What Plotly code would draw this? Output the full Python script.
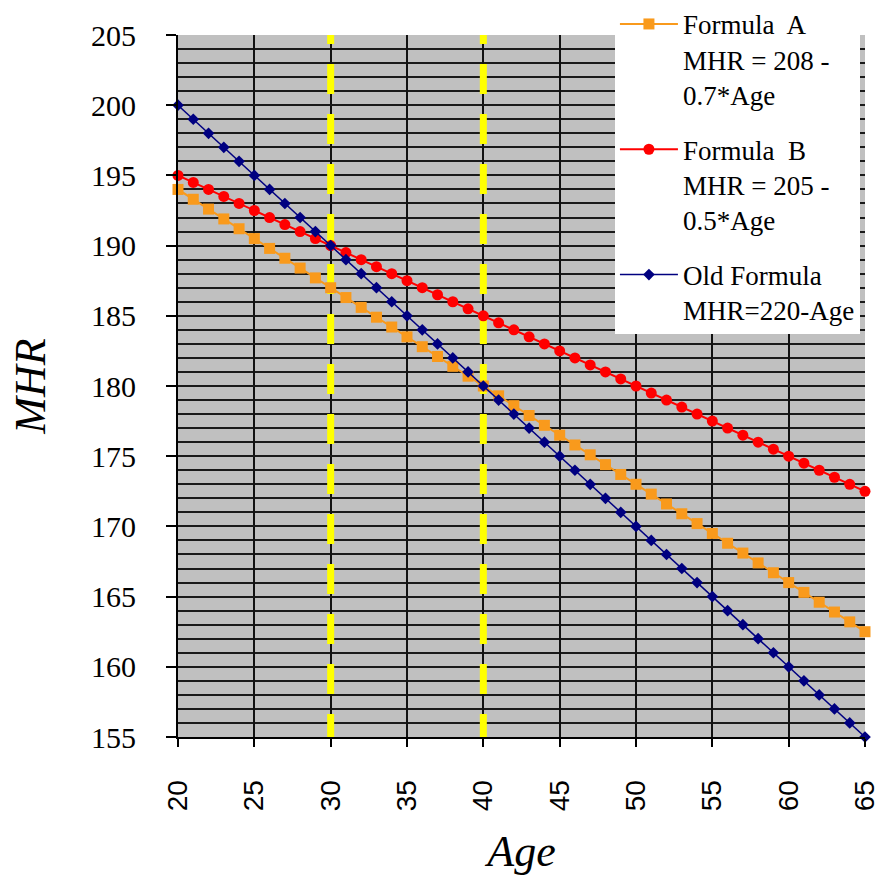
import plotly.graph_objects as go

ages = [20, 21, 22, 23, 24, 25, 26, 27, 28, 29, 30, 31, 32, 33, 34, 35, 36, 37, 38, 39,
        40, 41, 42, 43, 44, 45, 46, 47, 48, 49, 50, 51, 52, 53, 54, 55, 56, 57, 58, 59,
        60, 61, 62, 63, 64, 65]

formula_a = [194.0, 193.3, 192.6, 191.9, 191.2, 190.5, 189.8, 189.1, 188.4, 187.7,
             187.0, 186.3, 185.6, 184.9, 184.2, 183.5, 182.8, 182.1, 181.4, 180.7,
             180.0, 179.3, 178.6, 177.9, 177.2, 176.5, 175.8, 175.1, 174.4, 173.7,
             173.0, 172.3, 171.6, 170.9, 170.2, 169.5, 168.8, 168.1, 167.4, 166.7,
             166.0, 165.3, 164.6, 163.9, 163.2, 162.5]

formula_b = [195.0, 194.5, 194.0, 193.5, 193.0, 192.5, 192.0, 191.5, 191.0, 190.5,
             190.0, 189.5, 189.0, 188.5, 188.0, 187.5, 187.0, 186.5, 186.0, 185.5,
             185.0, 184.5, 184.0, 183.5, 183.0, 182.5, 182.0, 181.5, 181.0, 180.5,
             180.0, 179.5, 179.0, 178.5, 178.0, 177.5, 177.0, 176.5, 176.0, 175.5,
             175.0, 174.5, 174.0, 173.5, 173.0, 172.5]

old_formula = [200, 199, 198, 197, 196, 195, 194, 193, 192, 191,
               190, 189, 188, 187, 186, 185, 184, 183, 182, 181,
               180, 179, 178, 177, 176, 175, 174, 173, 172, 171,
               170, 169, 168, 167, 166, 165, 164, 163, 162, 161,
               160, 159, 158, 157, 156, 155]

names = ["Formula  A<br>MHR = 208 -<br>0.7*Age",
         "Formula  B<br>MHR = 205 -<br>0.5*Age",
         "Old Formula<br>MHR=220-Age"]

marker_ages = [30, 40]

x_ticks = [20, 25, 30, 35, 40, 45, 50, 55, 60, 65]
y_ticks = [155, 160, 165, 170, 175, 180, 185, 190, 195, 200, 205]

fig = go.Figure()

fig.add_trace(go.Scatter(
    x=ages, y=formula_a, name=names[0], mode="lines+markers",
    line=dict(color="#F99A1C", width=2),
    marker=dict(symbol="square", size=11, color="#F99A1C"),
    legendgroup="a", cliponaxis=False))
fig.add_trace(go.Scatter(
    x=ages, y=formula_b, name=names[1], mode="lines+markers",
    line=dict(color="#FF0000", width=2),
    marker=dict(symbol="circle", size=11, color="#FF0000"),
    legendgroup="b", cliponaxis=False))
fig.add_trace(go.Scatter(
    x=ages, y=old_formula, name=names[2], mode="lines+markers",
    line=dict(color="#000080", width=1.5),
    marker=dict(symbol="diamond", size=9, color="#000080"),
    legendgroup="c", cliponaxis=False))

for a in marker_ages:
    fig.add_shape(type="line", xref="x", yref="y", x0=a, x1=a, y0=154.5, y1=205,
                  line=dict(color="#FFFF00", width=7, dash="30px,20px"),
                  layer="between")

fig.update_layout(
    width=875, height=881,
    margin=dict(l=178, r=10, t=35, b=144, autoexpand=False),
    paper_bgcolor="white",
    plot_bgcolor="#C0C0C0",
    showlegend=True,
    legend=dict(
        x=0.636, y=1.05, xanchor="left", yanchor="top",
        bgcolor="white", borderwidth=0,
        font=dict(family="Liberation Serif", size=27, color="black"),
        tracegroupgap=17, traceorder="grouped",
        itemwidth=58, valign="top",
    ),
    xaxis=dict(
        range=[20, 65], tickvals=x_ticks, ticktext=[str(v) for v in x_ticks],
        tickangle=-90, ticks="outside", ticklen=8, tickwidth=2, tickcolor="black",
        tickfont=dict(family="Liberation Sans", size=28, color="black"),
        ticklabelstandoff=22, ticklabeloverflow="allow",
        showgrid=True, gridcolor="#111111", gridwidth=2,
        showline=True, linecolor="black", linewidth=2,
        zeroline=False,
        title=dict(text="<i>Age</i>", font=dict(family="Liberation Serif", size=44, color="black"),
                   standoff=25),
    ),
    yaxis=dict(
        range=[155, 205], tickvals=y_ticks, ticktext=[str(v) for v in y_ticks],
        ticks="outside", ticklen=10, tickwidth=2, tickcolor="black",
        tickfont=dict(family="Liberation Serif", size=30, color="black"),
        ticklabelstandoff=24,
        showgrid=True, gridcolor="#1a1a1a", gridwidth=2,
        minor=dict(dtick=1, showgrid=True, gridcolor="#1a1a1a", gridwidth=2),
        showline=True, linecolor="black", linewidth=2,
        zeroline=False,
        title=dict(text="<i>MHR</i>", font=dict(family="Liberation Serif", size=44, color="black"),
                   standoff=32),
    ),
)

fig.write_html("out.html")
